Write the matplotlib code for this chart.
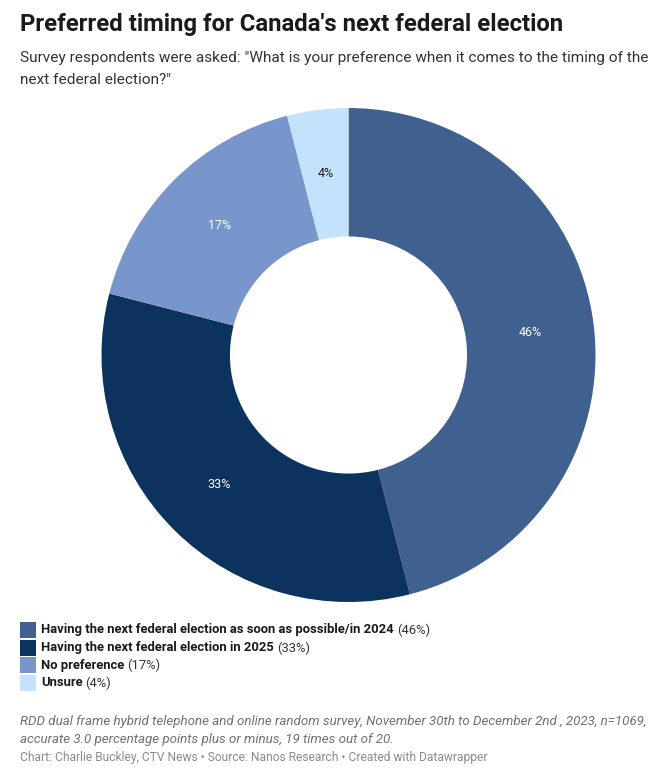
import matplotlib
matplotlib.use("Agg")
import matplotlib.pyplot as plt
from matplotlib.patches import Rectangle
import numpy as np

plt.rcParams['font.family'] = ['Roboto', 'DejaVu Sans']

categories = [
    "Having the next federal election as soon as possible/in 2024",
    "Having the next federal election in 2025",
    "No preference",
    "Unsure",
]
values = [46, 33, 17, 4]
colors = ["#40608f", "#0c335e", "#7896cc", "#c4e2fb"]
label_colors = ["white", "white", "white", "#1d1d1d"]

W, H = 660, 772
fig = plt.figure(figsize=(W / 100, H / 100), dpi=100)

def fx(px):
    return px / W

def fy(py):
    return 1 - py / H

# Title and subtitle
fig.text(fx(20), fy(24), "Preferred timing for Canada's next federal election",
         fontsize=17.2, fontweight='bold', color='#1a1a1a', va='center', ha='left')
fig.text(fx(20), fy(58), 'Survey respondents were asked: "What is your preference when it comes to the timing of the',
         fontsize=11.05, color='#333333', va='center', ha='left')
fig.text(fx(20), fy(80), 'next federal election?"',
         fontsize=11.05, color='#333333', va='center', ha='left')

# Donut
cx, cy, r = 348.5, 355, 247
ax = fig.add_axes([fx(cx - r), fy(cy + r), 2 * r / W, 2 * r / H])
ax.pie(values, colors=colors, startangle=90, counterclock=False,
       radius=1, wedgeprops=dict(width=0.52, linewidth=0))
total = sum(values)
cum = 0
for v, lc in zip(values, label_colors):
    mid = 90 - 360 * (cum + v / 2) / total
    cum += v
    rr = 0.74
    ax.text(rr * np.cos(np.radians(mid)), rr * np.sin(np.radians(mid)), f"{v}%",
            ha='center', va='center', fontsize=9, color=lc)
ax.set_xlim(-1, 1)
ax.set_ylim(-1, 1)
ax.set_aspect('equal')
ax.axis('off')

# Legend
ys = [630, 648, 665, 683]
legend_texts = []
for cat, c, y in zip(categories, colors, ys):
    fig.patches.append(Rectangle((fx(20), fy(y + 8)), 16 / W, 16 / H,
                                 transform=fig.transFigure, facecolor=c, edgecolor='none'))
    t = fig.text(fx(41), fy(y), cat, fontsize=9.4, fontweight='bold', color='#1a1a1a',
                 va='center', ha='left')
    legend_texts.append(t)

fig.canvas.draw()
renderer = fig.canvas.get_renderer()
for t, v in zip(legend_texts, values):
    bb = t.get_window_extent(renderer=renderer)
    fig.text(fx(bb.x1 + 3), t.get_position()[1], f"({v}%)", fontsize=9.4, color='#333333',
             va='center', ha='left')

# Footnotes
fig.text(fx(20), fy(722), "RDD dual frame hybrid telephone and online random survey, November 30th to December 2nd , 2023, n=1069,",
         fontsize=9.6, style='italic', color='#707070', va='center', ha='left')
fig.text(fx(20), fy(740), "accurate 3.0 percentage points plus or minus, 19 times out of 20.",
         fontsize=9.6, style='italic', color='#707070', va='center', ha='left')
fig.text(fx(20), fy(757), "Chart: Charlie Buckley, CTV News \u2022 Source: Nanos Research \u2022 Created with Datawrapper",
         fontsize=8.65, color='#8a8a8a', va='center', ha='left')

fig.savefig("out.png", dpi=100, facecolor='white')
